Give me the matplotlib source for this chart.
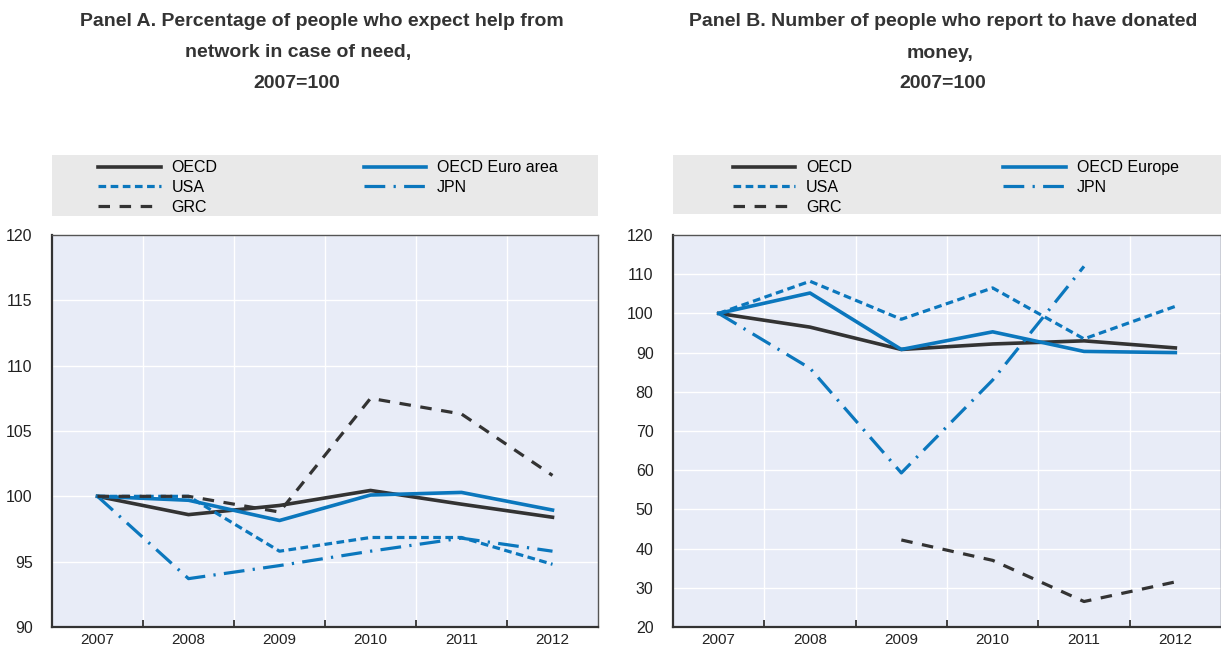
import numpy as np
import matplotlib
matplotlib.use("Agg")
import matplotlib.pyplot as plt

plt.rcParams['font.family'] = ['Liberation Sans Narrow', 'Liberation Sans', 'DejaVu Sans']

years = [2007, 2008, 2009, 2010, 2011, 2012]

# Panel A: expect help from network, 2007=100
a_oecd = [100, 98.6, 99.3, 100.45, 99.4, 98.4]
a_euro = [100, 99.7, 98.15, 100.1, 100.3, 98.95]
a_usa = [100, 100.0, 95.8, 96.85, 96.85, 94.8]
a_jpn = [100, 93.7, 94.7, 95.8, 96.8, 95.8]
a_grc = [100, 100.0, 98.8, 107.5, 106.3, 101.6]

# Panel B: donated money, 2007=100
b_oecd = [100, 96.5, 90.8, 92.2, 93.0, 91.2]
b_europe = [100, 105.2, 90.8, 95.3, 90.3, 90.0]
b_usa = [100, 108.2, 98.5, 106.5, 93.5, 101.8]
b_jpn = [100, 86.0, 59.3, 83.0, 112.0, np.nan]
b_grc = [np.nan, np.nan, 42.2, 37.0, 26.5, 31.5]

BLUE = '#0b77bd'
DARK = '#333333'
BG = '#e8ecf7'
LEG_BG = '#e9e9e9'

styles = {
    'OECD': dict(color=DARK, lw=2.6, ls='-'),
    'EURO': dict(color=BLUE, lw=2.6, ls='-'),
    'USA': dict(color=BLUE, lw=2.3, ls=(0, (2.4, 1.4))),
    'JPN': dict(color=BLUE, lw=2.3, ls=(0, (6.5, 2.6, 0.7, 2.6))),
    'GRC': dict(color=DARK, lw=2.3, ls=(0, (3.6, 3.0))),
}

W, H = 1221, 649
fig = plt.figure(figsize=(W / 100, H / 100), dpi=100)


def px(l, t, r, b):
    return [l / W, 1 - b / H, (r - l) / W, (b - t) / H]


def panel(rect, leg_rect, leg_cols, series, ylim, yticks, title_lines):
    ax = fig.add_axes(px(*rect))
    ax.set_facecolor(BG)
    x = np.arange(len(years))
    for key, label, vals in series:
        st = styles[key]
        ax.plot(x, vals, color=st['color'], lw=st['lw'], ls=st['ls'], label=label)
    ax.set_xlim(-0.5, len(years) - 0.5)
    ax.set_ylim(*ylim)
    ax.set_yticks(yticks)
    ax.set_xticks(x)
    ax.set_xticklabels([str(y) for y in years])
    ax.set_xticks(np.arange(0.5, len(years) - 0.5, 1), minor=True)
    ax.tick_params(axis='x', which='major', length=0, labelsize=11, colors='#222222', pad=4)
    ax.tick_params(axis='x', which='minor', direction='in', length=5, width=1.3, color=DARK)
    ax.tick_params(axis='y', length=0, labelsize=11.5, colors='#222222', pad=14)
    ax.grid(True, axis='y', color='white', lw=1)
    ax.grid(True, axis='x', which='minor', color='white', lw=1)
    ax.set_axisbelow(True)
    for s in ['left', 'bottom']:
        ax.spines[s].set_color(DARK)
        ax.spines[s].set_linewidth(1.6)
    for s in ['top', 'right']:
        ax.spines[s].set_color('#555555')
        ax.spines[s].set_linewidth(1.0)

    # legend box, two columns placed separately
    lax = fig.add_axes(px(*leg_rect))
    lax.set_facecolor(LEG_BG)
    lax.set_xticks([])
    lax.set_yticks([])
    for s in lax.spines.values():
        s.set_visible(False)
    h, l = ax.get_legend_handles_labels()
    kw = dict(frameon=False, loc='upper left', fontsize=11.5, handlelength=3.9,
              handletextpad=0.7, labelspacing=0.3, borderaxespad=0)
    col1 = lax.legend([h[0], h[2], h[4]], [l[0], l[2], l[4]],
                      bbox_to_anchor=(leg_cols[0], 1.02), **kw)
    lax.add_artist(col1)
    lax.legend([h[1], h[3]], [l[1], l[3]], bbox_to_anchor=(leg_cols[1], 1.02), **kw)

    for text, cx, cy in title_lines:
        fig.text(cx / W, 1 - cy / H, text, ha='center', va='center',
                 fontsize=14, fontweight='bold', color='#333333')
    return ax


panel((52, 235, 598, 627), (52, 155, 598, 216), (0.073, 0.559),
      [('OECD', 'OECD', a_oecd), ('EURO', 'OECD Euro area', a_euro),
       ('USA', 'USA', a_usa), ('JPN', 'JPN', a_jpn), ('GRC', 'GRC', a_grc)],
      (90, 120), [90, 95, 100, 105, 110, 115, 120],
      [('Panel A. Percentage of people who expect help from', 322, 22),
       ('network in case of need,', 298, 53),
       ('2007=100', 297, 84)])

panel((673, 235, 1221, 627), (673, 155, 1221, 214), (0.097, 0.591),
      [('OECD', 'OECD', b_oecd), ('EURO', 'OECD Europe', b_europe),
       ('USA', 'USA', b_usa), ('JPN', 'JPN', b_jpn), ('GRC', 'GRC', b_grc)],
      (20, 120), [20, 30, 40, 50, 60, 70, 80, 90, 100, 110, 120],
      [('Panel B. Number of people who report to have donated', 943, 22),
       ('money,', 940, 53),
       ('2007=100', 943, 84)])

fig.savefig('out.png', dpi=100)
